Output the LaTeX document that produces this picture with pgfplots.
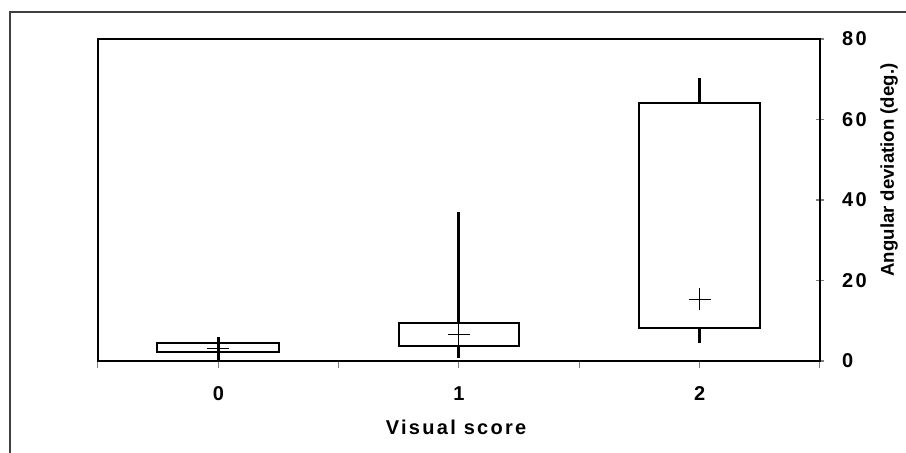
\documentclass[border=0pt]{standalone}
\usepackage{pgfplots}
\pgfplotsset{compat=1.18}
\usepackage{fontspec}
\setmainfont{Liberation Sans}
\newfontfamily\lsb{Liberation Sans}[LetterSpace=11.5]
\begin{document}
\begin{tikzpicture}
\useasboundingbox (0,0) rectangle (453pt,226.5pt);
\draw[black!75, line width=0.6pt] (5pt,0) -- (5pt,220.5pt) -- (453pt,220.5pt);
\begin{axis}[
  at={(49pt,46pt)}, anchor=south west,
  scale only axis, width=361pt, height=161pt,
  xmin=-0.5, xmax=2.5, ymin=0, ymax=80,
  clip=false,
  axis line style={line width=1pt},
  xtick={-0.5,0,0.5,1,1.5,2,2.5},
  xticklabels={,0,,1,,2,},
  ytick={0,20,40,60,80},
  xtick pos=bottom, ytick pos=right,
  yticklabel pos=right,
  xtick align=outside, ytick align=center,
  major tick length=3.75pt,
  x tick style={line width=0.5pt},
  y tick style={line width=0.6pt},
  minor tick num=0,
  /pgf/number format/assume math mode=true,
  tick label style={font=\lsb\bfseries\fontsize{10}{12}\selectfont},
  xticklabel style={anchor=north, inner sep=0pt, yshift=-9pt},
  yticklabel style={anchor=west, inner sep=0pt, xshift=9pt},
  xlabel={Visual score},
  every axis x label/.style={at={(axis description cs:0.496,0)}, anchor=north, inner sep=0pt, yshift=-29.5pt, font=\lsb\bfseries\fontsize{10}{12}\selectfont},
  ylabel={Angular deviation (deg.)},
  every axis y label/.style={at={(axis description cs:1.0956,0.593)}, anchor=center, rotate=90, inner sep=0pt, font=\bfseries\fontsize{9.3}{11}\selectfont},
]
% boxes (25th-75th percentile)
\addplot[black, line width=1pt, mark=none] coordinates {(-0.253,2.24) (0.253,2.24) (0.253,4.47) (-0.253,4.47)} -- cycle;
\addplot[black, line width=1pt, mark=none] coordinates {(0.75,3.7) (1.25,3.7) (1.25,9.4) (0.75,9.4)} -- cycle;
\addplot[black, line width=1pt, mark=none] coordinates {(1.75,8.2) (2.25,8.2) (2.25,64.1) (1.75,64.1)} -- cycle;
% whiskers
\addplot[black, line width=1.5pt, mark=none] coordinates {(0,0) (0,6.0)};
\addplot[black, line width=1.5pt, mark=none] coordinates {(1,9.4) (1,37.0)};
\addplot[black, line width=1.5pt, mark=none] coordinates {(1,0.7) (1,3.7)};
\addplot[black, line width=1.5pt, mark=none] coordinates {(2,64.1) (2,70.3)};
\addplot[black, line width=1.5pt, mark=none] coordinates {(2,4.5) (2,8.2)};
% means
\addplot[black, only marks, mark=+, mark size=5.5pt, line width=0.5pt] coordinates {(0,3.0) (1,6.5) (2,15.4)};
\end{axis}
\end{tikzpicture}
\end{document}
